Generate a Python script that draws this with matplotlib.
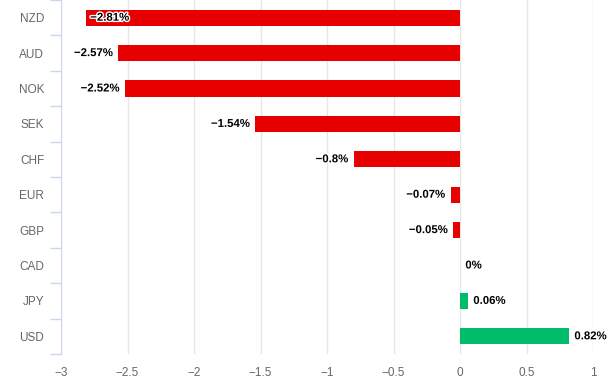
import numpy as np
import matplotlib
matplotlib.use('Agg')
import matplotlib.pyplot as plt
import matplotlib.patheffects as pe

plt.rcParams['font.family'] = ['Liberation Sans', 'DejaVu Sans']

# currency performance, %
currencies = ['NZD', 'AUD', 'NOK', 'SEK', 'CHF', 'EUR', 'GBP', 'CAD', 'JPY', 'USD']
changes = [-2.81, -2.57, -2.52, -1.54, -0.8, -0.07, -0.05, 0, 0.06, 0.82]
x_ticks = [-3, -2.5, -2, -1.5, -1, -0.5, 0, 0.5, 1]

red = '#e60000'
green = '#00bb6a'

fig = plt.figure(figsize=(6.16, 3.87), dpi=100)
ax = fig.add_axes([61 / 616, 1 - 354 / 387, (593 - 61) / 616, 354 / 387])

y = np.arange(len(currencies))
colors = [red if v < 0 else green for v in changes]
ax.barh(y, changes, height=0.46, color=colors, zorder=3)

ax.set_xlim(-3, 1)
ax.set_ylim(len(currencies) - 0.5, -0.5)

def fmt(v):
    s = ('%.2f' % abs(v)).rstrip('0').rstrip('.')
    return ('\u2212' if v < 0 else '') + s + '%'

halo = [pe.withStroke(linewidth=2, foreground='white')]
for i, v in enumerate(changes):
    if v <= -2.7:
        # would overflow the plot, so draw inside the bar
        ax.text(v + 0.03, i, fmt(v), ha='left', va='center', fontsize=8.2,
                fontweight='bold', color='black', path_effects=halo, zorder=4)
    elif v < 0:
        ax.text(v - 0.04, i, fmt(v), ha='right', va='center', fontsize=8.2,
                fontweight='bold', color='black', path_effects=halo, zorder=4)
    else:
        ax.text(v + 0.04, i, fmt(v), ha='left', va='center', fontsize=8.2,
                fontweight='bold', color='black', path_effects=halo, zorder=4)

ax.set_xticks(x_ticks)
ax.set_xticklabels([('%g' % t).replace('-', '\u2212') for t in x_ticks])
ax.set_yticks(y)
ax.set_yticklabels(currencies)
ax.set_yticks(np.arange(len(currencies) + 1) - 0.5, minor=True)

ax.grid(axis='x', color='#e6e6e6', linewidth=1, zorder=0)
ax.tick_params(axis='x', length=0, labelsize=8.5, labelcolor='#666666', pad=9)
ax.tick_params(axis='y', which='major', length=0, labelsize=8.5, labelcolor='#666666', pad=12)
ax.tick_params(axis='y', which='minor', length=8, color='#ccd6eb', width=1)

for s in ['top', 'right', 'bottom']:
    ax.spines[s].set_visible(False)
ax.spines['left'].set_color('#ccd6eb')

fig.savefig('out.png', dpi=100)
